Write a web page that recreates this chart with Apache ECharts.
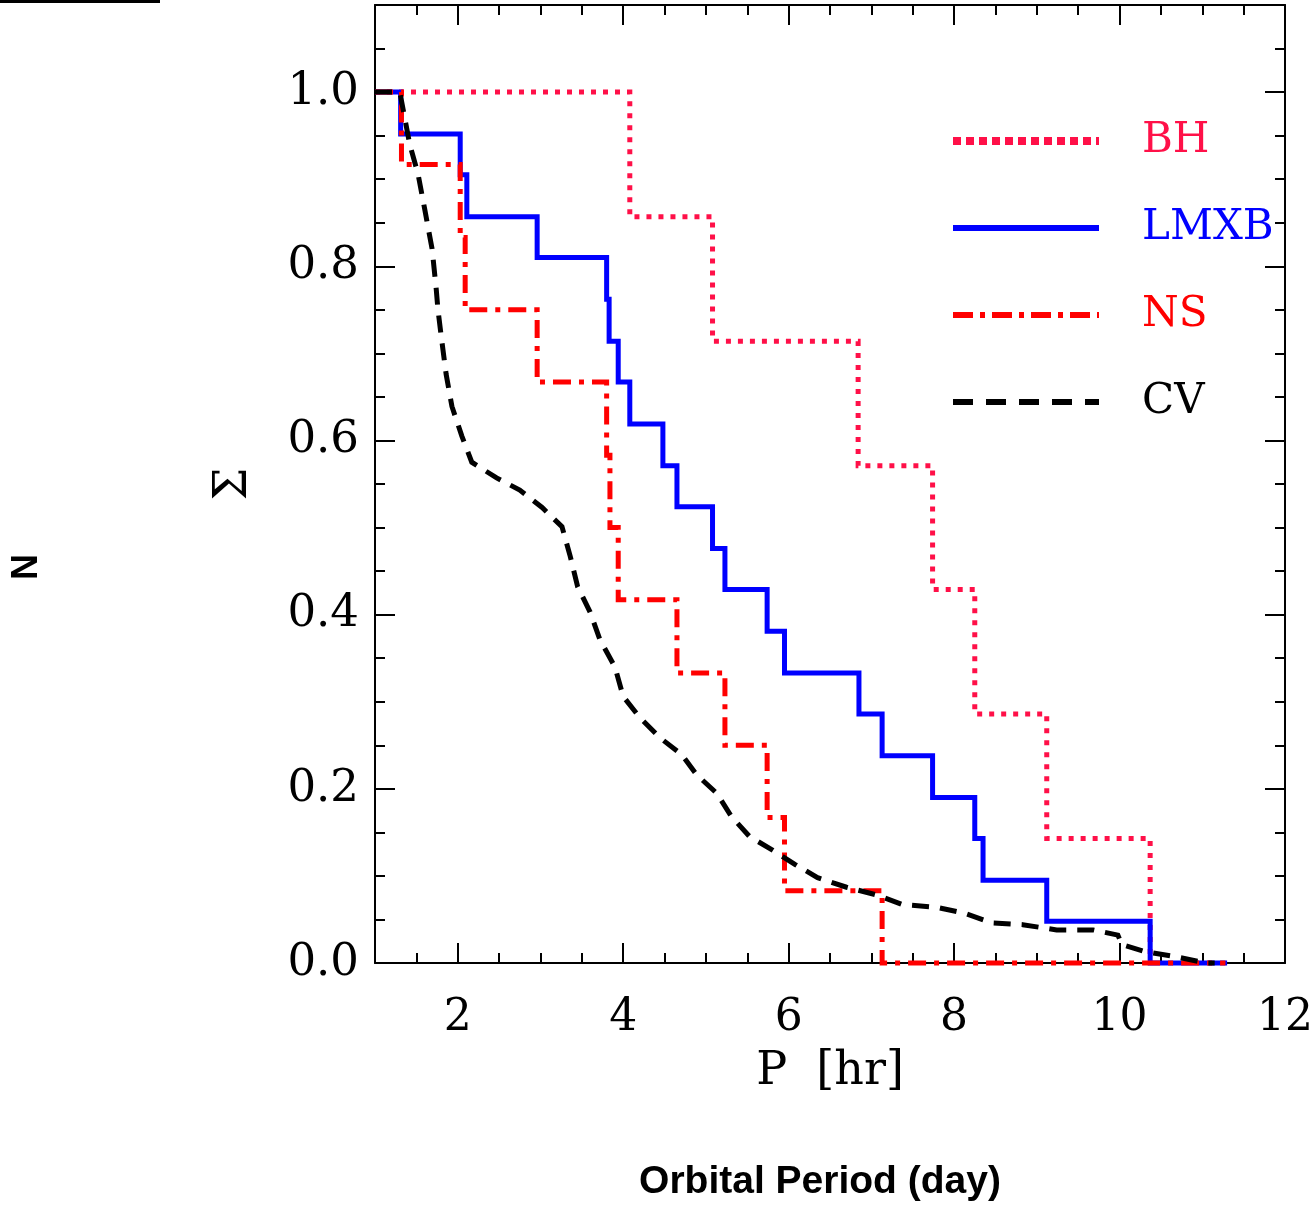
<!DOCTYPE html>
<html><head><meta charset="utf-8">
<script src="https://cdn.jsdelivr.net/npm/echarts@6/dist/echarts.min.js"></script>
<style>html,body{margin:0;padding:0;background:#fff}#c{width:1316px;height:1211px}</style>
</head><body><div id="c"></div>
<script>
// ---- data ----
const seriesNames = ['BH', 'LMXB', 'NS', 'CV'];
// cumulative fraction steps: [P (hr) where the value starts, value]
const bhData = [[1,1],[4.08,0.857],[5.08,0.714],[6.84,0.571],[7.74,0.429],[8.25,0.286],[9.12,0.143],[10.37,0]];
const lmxbData = [[1,1],[1.31,0.952],[2.03,0.905],[2.11,0.857],[2.96,0.810],[3.80,0.762],[3.83,0.714],[3.94,0.667],[4.08,0.619],[4.48,0.571],[4.65,0.524],[5.08,0.476],[5.23,0.429],[5.74,0.381],[5.95,0.333],[6.85,0.286],[7.13,0.238],[7.74,0.190],[8.25,0.143],[8.35,0.095],[9.12,0.048],[10.37,0],[11.3,0]];
const nsData = [[1,1],[1.32,0.917],[2.03,0.833],[2.09,0.75],[2.96,0.667],[3.80,0.583],[3.84,0.5],[3.94,0.417],[4.65,0.333],[5.23,0.25],[5.74,0.167],[5.95,0.083],[7.13,0],[11.28,0]];
const cvData = [[1,1],[1.30,1],[1.34,0.980],[1.42,0.940],[1.52,0.906],[1.60,0.866],[1.69,0.820],[1.74,0.774],[1.76,0.751],[1.80,0.720],[1.86,0.676],[1.93,0.639],[2.05,0.605],[2.17,0.575],[2.47,0.557],[2.75,0.543],[3.02,0.523],[3.26,0.501],[3.36,0.467],[3.45,0.432],[3.60,0.403],[3.72,0.371],[3.90,0.340],[4.00,0.306],[4.20,0.282],[4.44,0.259],[4.71,0.239],[4.89,0.216],[5.13,0.195],[5.31,0.168],[5.53,0.145],[5.80,0.130],[6.08,0.113],[6.35,0.098],[6.70,0.087],[7.07,0.078],[7.38,0.067],[7.79,0.064],[8.13,0.057],[8.46,0.046],[8.83,0.044],[9.24,0.038],[9.68,0.038],[9.98,0.032],[10.03,0.021],[10.31,0.013],[10.69,0.007],[11.05,0],[11.15,0]];
const xMajorTicks = [2, 4, 6, 8, 10, 12];
const xMinorTicks = [1.5,2.5,3,3.5,4.5,5,5.5,6.5,7,7.5,8.5,9,9.5,10.5,11,11.5];
const xRange = [1, 12];
const yRange = [0, 1.1];
const xTitle = 'P  [hr]';
const yTitle = 'Σ';
const extraLeftLabel = 'N';
const extraBottomLabel = 'Orbital Period (day)';

// ---- styles ----
const serif = 'DejaVu Serif';
const colors = { BH: '#ff1048', LMXB: '#0000ff', NS: '#ff0000', CV: '#000000' };
const lineStyles = {
  BH:   { width: 5, type: [5, 7] },
  LMXB: { width: 5, type: 'solid' },
  NS:   { width: 5, type: [18, 8, 5, 8] },
  CV:   { width: 5, type: [17, 11] }
};
const legendLine = {
  BH:   { width: 8, type: [8, 5] },
  LMXB: { width: 6, type: 'solid' },
  NS:   { width: 6, type: [20, 7, 5, 7] },
  CV:   { width: 6, type: [20, 13] }
};
const axisCol = '#000';
const tickStyle = { color: axisCol, width: 2 };

function xAx(pos, major, withLabels) {
  const a = {
    type: 'value', min: xRange[0], max: xRange[1], position: pos,
    axisLine: { show: !major, onZero: false, lineStyle: { color: axisCol, width: 2 } },
    axisTick: { show: true, inside: true, length: major ? 20 : 10, lineStyle: tickStyle,
      customValues: major ? xMajorTicks : xMinorTicks },
    axisLabel: { show: !!withLabels, customValues: xMajorTicks, margin: 34,
      fontFamily: serif, fontSize: 44, color: '#000' },
    splitLine: { show: false }
  };
  if (withLabels) {
    a.name = xTitle; a.nameLocation = 'middle'; a.nameGap = 86;
    a.nameTextStyle = { fontFamily: serif, fontSize: 46, color: '#000' };
  }
  return a;
}
function yAx(pos, withLabels) {
  const a = {
    type: 'value', min: yRange[0], max: yRange[1], interval: 0.2, position: pos,
    axisLine: { show: true, onZero: false, lineStyle: { color: axisCol, width: 2 } },
    axisTick: { show: true, inside: true, length: 20, lineStyle: tickStyle },
    minorTick: { show: true, splitNumber: 4, length: 10, lineStyle: tickStyle },
    axisLabel: { show: !!withLabels, showMaxLabel: false, margin: 16,
      formatter: v => v.toFixed(1), fontFamily: serif, fontSize: 45, color: '#000' },
    splitLine: { show: false }, minorSplitLine: { show: false }
  };
  if (withLabels) {
    a.name = yTitle; a.nameLocation = 'middle'; a.nameGap = 118;
    a.nameTextStyle = { fontFamily: serif, fontSize: 46, color: '#000' };
  }
  return a;
}

const dataMap = { BH: bhData, LMXB: lmxbData, NS: nsData, CV: cvData };
const series = seriesNames.map(n => ({
  name: n, type: 'line', data: dataMap[n], step: n === 'CV' ? false : 'end',
  symbol: 'none', showSymbol: false, clip: false, xAxisIndex: 0, yAxisIndex: 0,
  lineStyle: Object.assign({ color: colors[n], cap: 'butt', join: 'miter' }, lineStyles[n]),
  itemStyle: { color: colors[n] }, z: 2 + seriesNames.indexOf(n)
}));

const chart = echarts.init(document.getElementById('c'), null, { renderer: 'canvas' });
chart.setOption({
  animation: false,
  backgroundColor: '#fff',
  grid: { left: 375, right: 31, top: 5, bottom: 248, containLabel: false },
  xAxis: [xAx('bottom', false, false), xAx('bottom', true, true), xAx('top', false, false), xAx('top', true, false)],
  yAxis: [yAx('left', true), yAx('right', false)],
  legend: {
    orient: 'vertical', left: 949, top: 120, padding: 0, itemWidth: 146, itemHeight: 42, itemGap: 45,
    itemStyle: { opacity: 0 },
    textStyle: { fontFamily: serif, fontSize: 42, padding: [0, 0, 0, 38] },
    data: seriesNames.map(n => ({ name: n, textStyle: { color: colors[n] },
      lineStyle: Object.assign({ color: colors[n], cap: 'butt' }, legendLine[n]) }))
  },
  series: series,
  graphic: [
    { type: 'rect', left: 0, top: 0, shape: { width: 160, height: 3 }, style: { fill: '#000' } },
    { type: 'text', x: 27, y: 567, rotation: Math.PI / 2,
      style: { text: extraLeftLabel, fontFamily: 'Liberation Sans', fontWeight: 'bold', fontSize: 36,
        align: 'center', verticalAlign: 'middle', fill: '#000' } },
    { type: 'text', x: 820, y: 1182,
      style: { text: extraBottomLabel, fontFamily: 'Liberation Sans', fontWeight: 'bold', fontSize: 39,
        align: 'center', verticalAlign: 'middle', fill: '#000' } }
  ]
});
</script></body></html>
